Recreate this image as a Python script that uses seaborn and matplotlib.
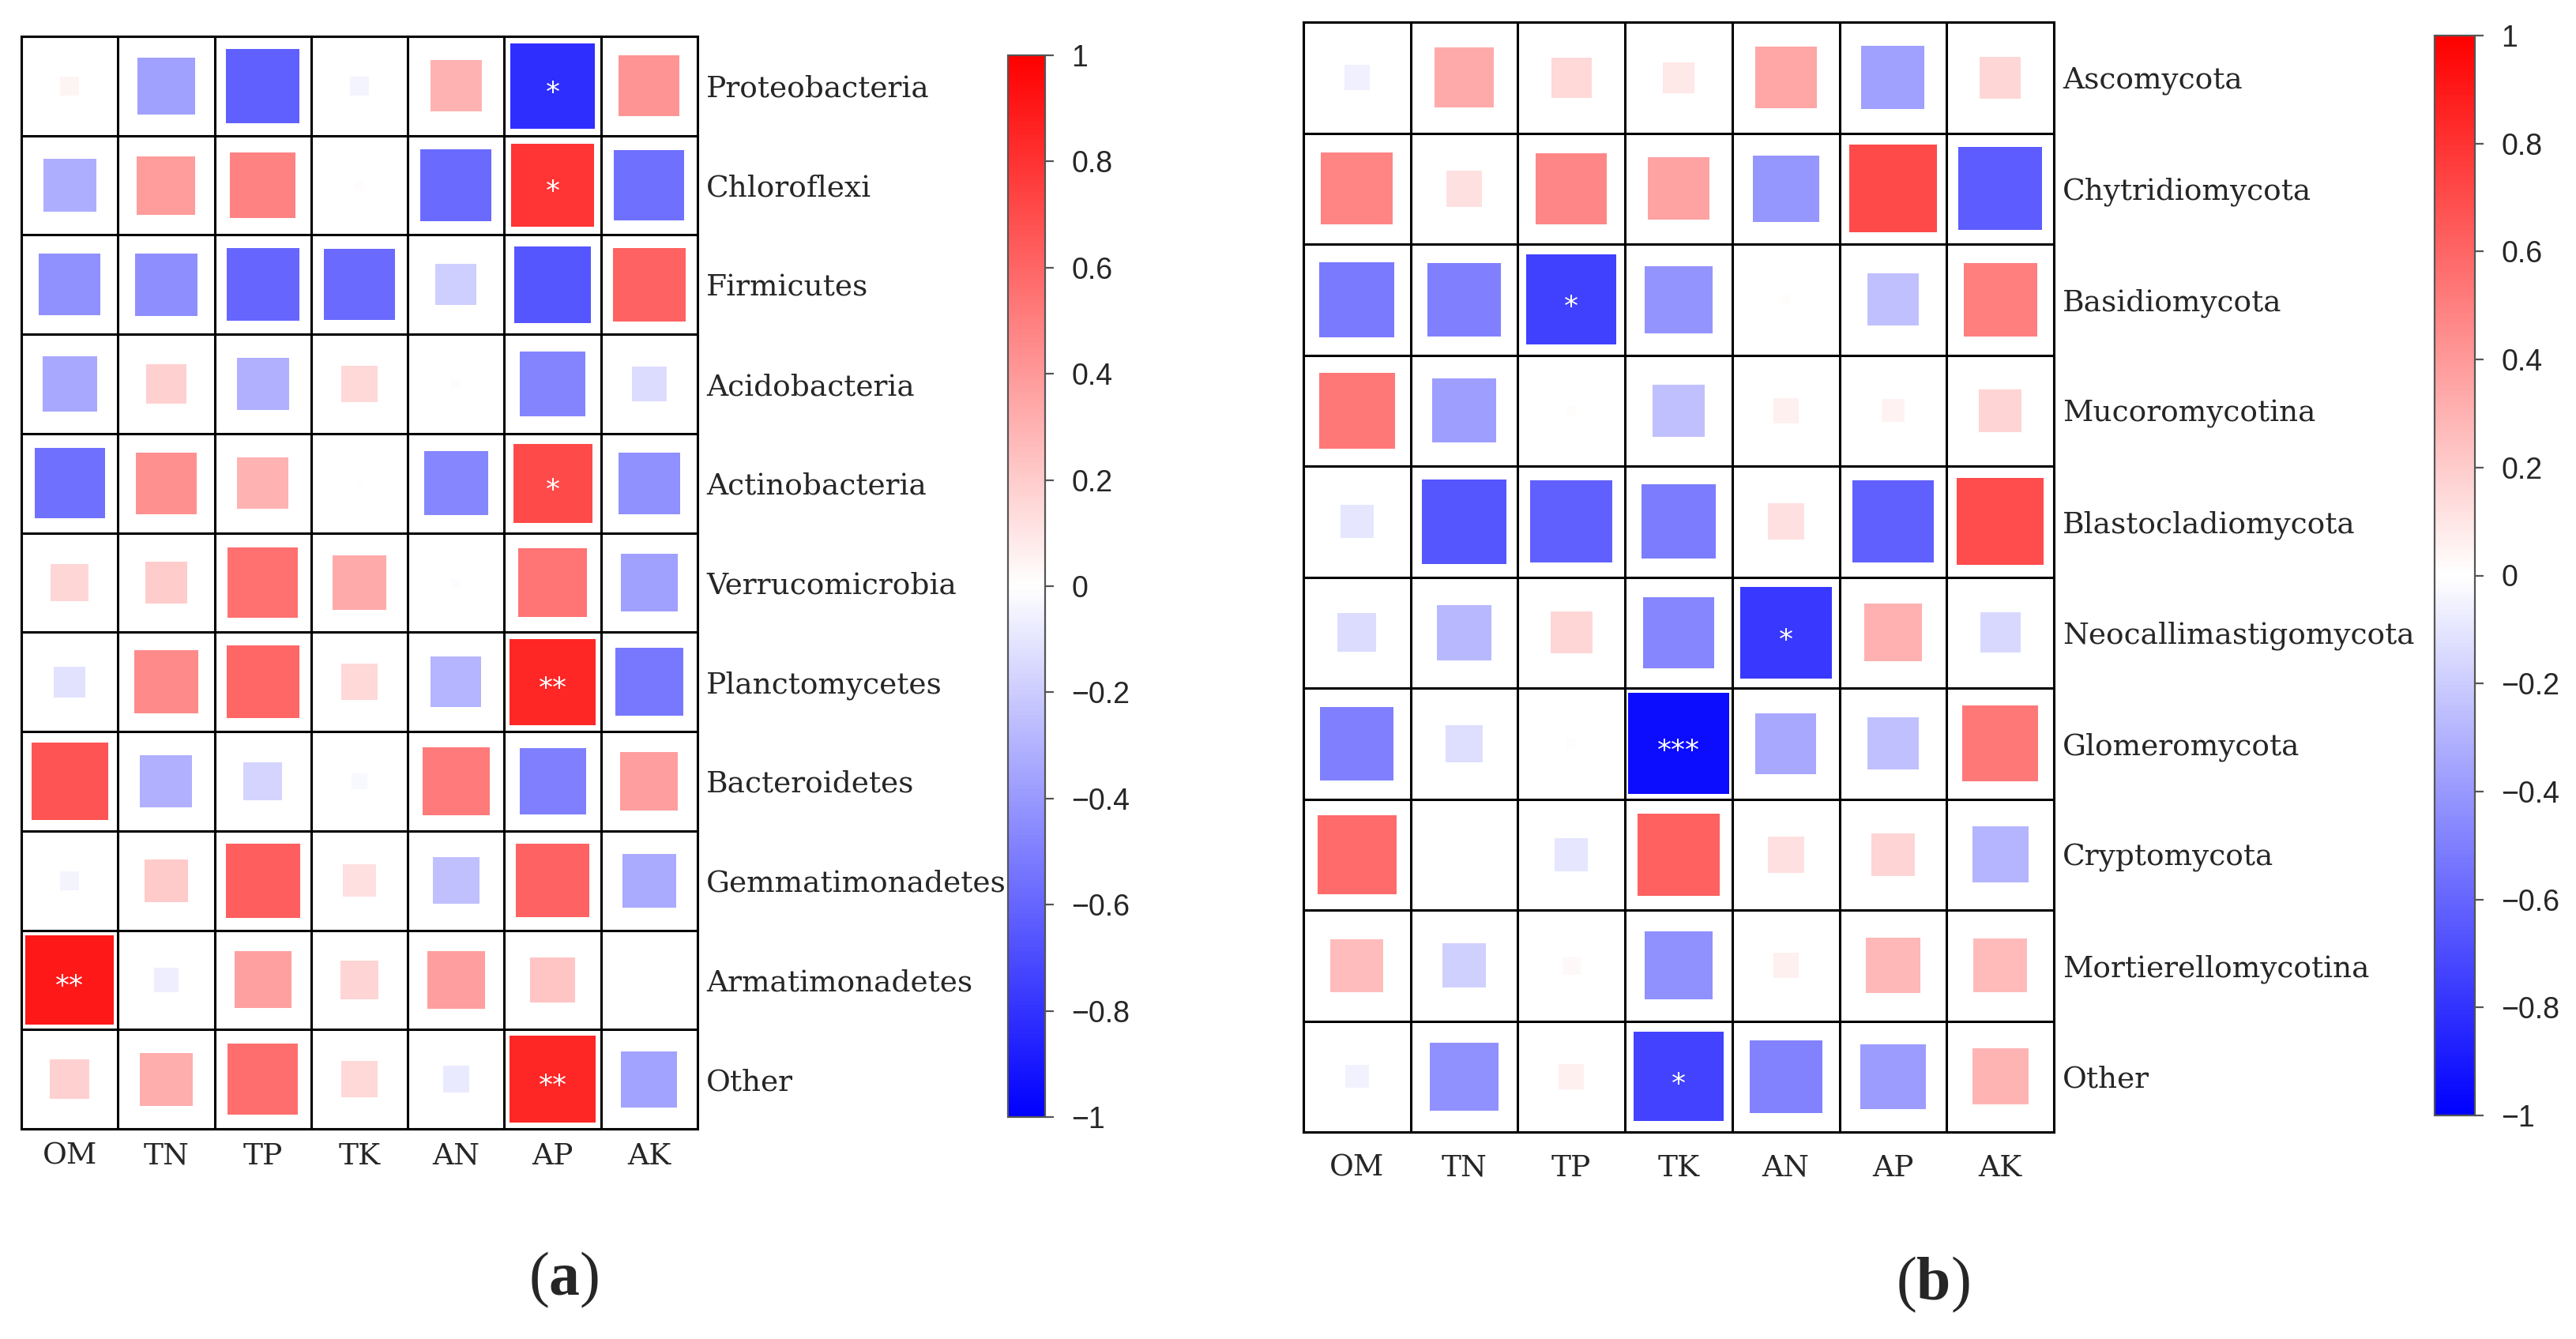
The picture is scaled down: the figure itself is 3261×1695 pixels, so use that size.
import numpy as np
import pandas as pd
import matplotlib
matplotlib.use("Agg")
import matplotlib.pyplot as plt
import seaborn as sns

# ---------------- data ----------------
soil_vars = ["OM", "TN", "TP", "TK", "AN", "AP", "AK"]

bacteria = ["Proteobacteria", "Chloroflexi", "Firmicutes", "Acidobacteria",
            "Actinobacteria", "Verrucomicrobia", "Planctomycetes", "Bacteroidetes",
            "Gemmatimonadetes", "Armatimonadetes", "Other"]
bacteria_r = [
    [0.04, -0.37, -0.62, -0.04, 0.30, -0.82, 0.42],
    [-0.32, 0.39, 0.49, 0.01, -0.58, 0.79, -0.56],
    [-0.43, -0.44, -0.60, -0.58, -0.19, -0.66, 0.61],
    [-0.34, 0.18, -0.31, 0.15, -0.01, -0.48, -0.14],
    [-0.56, 0.43, 0.30, 0.005, -0.47, 0.71, -0.43],
    [0.16, 0.20, 0.56, 0.33, -0.01, 0.54, -0.37],
    [-0.11, 0.46, 0.60, 0.15, -0.29, 0.85, -0.53],
    [0.67, -0.31, -0.17, -0.03, 0.52, -0.50, 0.38],
    [-0.04, 0.21, 0.63, 0.12, -0.25, 0.61, -0.33],
    [0.90, -0.07, 0.37, 0.17, 0.38, 0.23, 0.0],
    [0.18, 0.32, 0.57, 0.15, -0.08, 0.85, -0.36],
]
bacteria_sig = [
    ["", "", "", "", "", "*", ""],
    ["", "", "", "", "", "*", ""],
    ["", "", "", "", "", "", ""],
    ["", "", "", "", "", "", ""],
    ["", "", "", "", "", "*", ""],
    ["", "", "", "", "", "", ""],
    ["", "", "", "", "", "**", ""],
    ["", "", "", "", "", "", ""],
    ["", "", "", "", "", "", ""],
    ["**", "", "", "", "", "", ""],
    ["", "", "", "", "", "**", ""],
]

fungi = ["Ascomycota", "Chytridiomycota", "Basidiomycota", "Mucoromycotina",
         "Blastocladiomycota", "Neocallimastigomycota", "Glomeromycota",
         "Cryptomycota", "Mortierellomycotina", "Other"]
fungi_r = [
    [-0.06, 0.33, 0.15, 0.09, 0.35, -0.37, 0.16],
    [0.48, 0.12, 0.47, 0.36, -0.41, 0.71, -0.64],
    [-0.52, -0.50, -0.75, -0.42, 0.01, -0.25, 0.50],
    [0.53, -0.38, 0.01, -0.25, 0.06, 0.05, 0.17],
    [-0.10, -0.66, -0.62, -0.51, 0.12, -0.62, 0.70],
    [-0.14, -0.28, 0.16, -0.47, -0.78, 0.31, -0.15],
    [-0.50, -0.13, 0.01, -0.95, -0.34, -0.25, 0.53],
    [0.58, 0.005, -0.10, 0.62, 0.12, 0.17, -0.29],
    [0.26, -0.18, 0.03, -0.43, 0.06, 0.28, 0.27],
    [-0.05, -0.43, 0.06, -0.74, -0.49, -0.39, 0.29],
]
fungi_sig = [
    ["", "", "", "", "", "", ""],
    ["", "", "", "", "", "", ""],
    ["", "", "*", "", "", "", ""],
    ["", "", "", "", "", "", ""],
    ["", "", "", "", "", "", ""],
    ["", "", "", "", "*", "", ""],
    ["", "", "", "***", "", "", ""],
    ["", "", "", "", "", "", ""],
    ["", "", "", "", "", "", ""],
    ["", "", "", "*", "", "", ""],
]

cbar_ticks = [-1, -0.8, -0.6, -0.4, -0.2, 0, 0.2, 0.4, 0.6, 0.8, 1]
cbar_labels = ["\u22121", "\u22120.8", "\u22120.6", "\u22120.4", "\u22120.2", "0",
               "0.2", "0.4", "0.6", "0.8", "1"]

# ---------------- style ----------------
sns.set_style("white")
plt.rcParams["font.family"] = ["DejaVu Serif", "Liberation Serif"]
plt.rcParams["mathtext.fontset"] = "custom"
plt.rcParams["mathtext.rm"] = "Liberation Serif"
plt.rcParams["mathtext.bf"] = "Liberation Serif:bold"

W, H, DPI = 3262, 1695, 200
fig = plt.figure(figsize=(W / DPI, H / DPI), dpi=DPI)


def frac_box(x0, y0, x1, y1):
    return [x0 / W, 1 - y1 / H, (x1 - x0) / W, (y1 - y0) / H]


def corr_panel(ax, rows, r, sig, xlab_pad):
    long = pd.DataFrame(
        [(c, rw, r[i][j]) for i, rw in enumerate(rows) for j, c in enumerate(soil_vars)],
        columns=["var", "taxon", "r"])
    long["absr"] = long["r"].abs()
    ncol, nrow = len(soil_vars), len(rows)
    bbox = ax.get_position()
    cell_w_pt = bbox.width * W / DPI * 72 / ncol
    cell_h_pt = bbox.height * H / DPI * 72 / nrow
    side = 0.97 * min(cell_w_pt, cell_h_pt)
    sns.scatterplot(data=long, x="var", y="taxon", hue="r", size="absr",
                    palette="bwr", hue_norm=(-1, 1), sizes=(0, side ** 2),
                    size_norm=(0, 1), marker="s", linewidth=0, legend=False, ax=ax)
    ax.set_xlim(-0.5, ncol - 0.5)
    ax.set_ylim(nrow - 0.5, -0.5)
    ax.set_xticks(np.arange(-0.5, ncol, 1), minor=True)
    ax.set_yticks(np.arange(-0.5, nrow, 1), minor=True)
    ax.grid(which="minor", color="black", linewidth=1.1)
    ax.grid(which="major", visible=False)
    ax.tick_params(which="both", length=0)
    ax.set_xticks(range(ncol))
    ax.set_xticklabels(soil_vars, fontsize=13.5)
    ax.set_yticks(range(nrow))
    ax.set_yticklabels(rows, fontsize=13.5)
    ax.yaxis.tick_right()
    ax.tick_params(axis="y", pad=4)
    ax.tick_params(axis="x", pad=xlab_pad)
    ax.set_xlabel("")
    ax.set_ylabel("")
    for s in ax.spines.values():
        s.set_visible(True)
        s.set_color("black")
        s.set_linewidth(1.1)
    for i in range(nrow):
        for j in range(ncol):
            if sig[i][j]:
                ax.text(j, i + 0.07, sig[i][j], color="white", ha="center",
                        va="center", fontsize=13, fontfamily="DejaVu Sans")


def colorbar(cax):
    sm = plt.cm.ScalarMappable(cmap="bwr", norm=plt.Normalize(-1, 1))
    cb = fig.colorbar(sm, cax=cax)
    cb.set_ticks(cbar_ticks)
    cb.set_ticklabels(cbar_labels)
    cb.outline.set_edgecolor("#555555")
    cb.outline.set_linewidth(0.8)
    cax.tick_params(length=4, width=0.8, color="#555555", pad=8,
                    labelsize=13.5)
    for t in cax.get_yticklabels():
        t.set_fontfamily(["Liberation Sans", "DejaVu Sans"])


ax_a = fig.add_axes(frac_box(27, 46, 883, 1429))
corr_panel(ax_a, bacteria, bacteria_r, bacteria_sig, xlab_pad=6)
cax_a = fig.add_axes(frac_box(1276, 70, 1323, 1414))
colorbar(cax_a)

ax_b = fig.add_axes(frac_box(1650, 28, 2600, 1433))
corr_panel(ax_b, fungi, fungi_r, fungi_sig, xlab_pad=10)
cax_b = fig.add_axes(frac_box(3082, 45, 3133, 1412))
colorbar(cax_b)

fig.text(714 / W, 1 - 1620 / H, r"($\mathbf{a}$)", ha="center", va="center",
         fontsize=28, fontfamily="Liberation Serif")
fig.text(2447 / W, 1 - 1626 / H, r"($\mathbf{b}$)", ha="center", va="center",
         fontsize=28, fontfamily="Liberation Serif")

fig.savefig("out.png", dpi=DPI)
